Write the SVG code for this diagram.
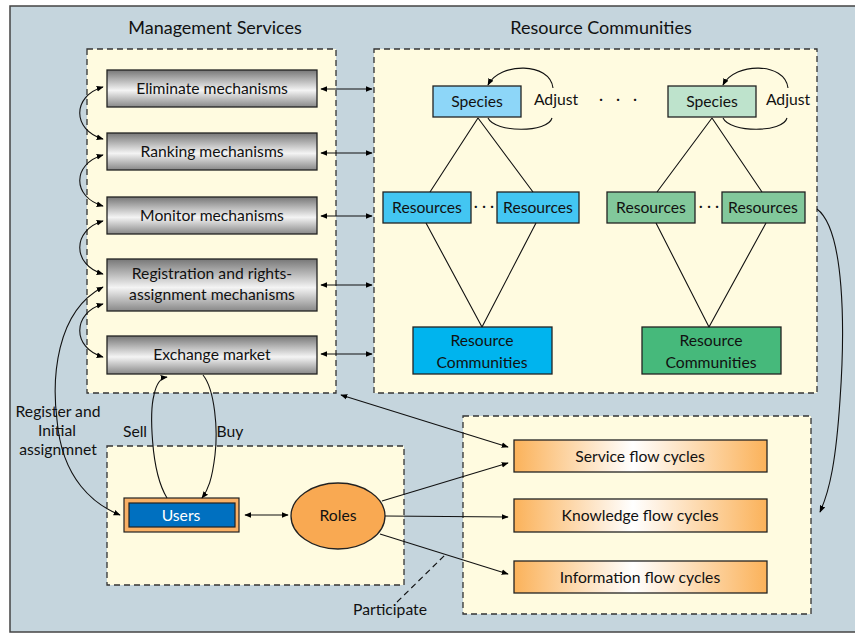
<svg xmlns="http://www.w3.org/2000/svg" width="855" height="633" viewBox="0 0 855 633">
<defs>
<linearGradient id="gray" x1="0" y1="0" x2="0" y2="1">
<stop offset="0" stop-color="#777"/>
<stop offset="0.55" stop-color="#f4f4f4"/>
<stop offset="1" stop-color="#888"/>
</linearGradient>
<linearGradient id="orange" x1="0" y1="0" x2="1" y2="0">
<stop offset="0" stop-color="#fbb25a"/>
<stop offset="0.47" stop-color="#ffffff"/>
<stop offset="1" stop-color="#fbb25a"/>
</linearGradient>
<marker id="ah" viewBox="0 0 10 10" refX="9" refY="5" markerWidth="7" markerHeight="7" orient="auto-start-reverse" markerUnits="userSpaceOnUse">
<path d="M0,1 L10,5 L0,9 z" fill="#000"/>
</marker>
</defs>
<style>
text{font-family:Lato,"Liberation Sans",sans-serif;fill:#111;}
.t{font-size:15.7px;text-anchor:middle;}
.title{font-size:18px;text-anchor:middle;}
.dash{fill:#fffbe0;stroke:#333;stroke-width:1.3;stroke-dasharray:6,4;}
.mech{fill:url(#gray);stroke:#222;stroke-width:1.3;}
.flow{fill:url(#orange);stroke:#222;stroke-width:1.3;}
.box{stroke:#222;stroke-width:1.3;}
.ln{fill:none;stroke:#111;stroke-width:1.1;}
.ar{fill:none;stroke:#111;stroke-width:1.1;marker-end:url(#ah);}
.ar2{fill:none;stroke:#111;stroke-width:1.1;marker-end:url(#ah);marker-start:url(#ah);}
</style>
<rect x="0" y="0" width="855" height="633" fill="#ffffff"/>
<rect x="10" y="6" width="860" height="626" fill="#c5d5dd" stroke="#444" stroke-width="1.5"/>

<text class="title" x="215" y="34">Management Services</text>
<text class="title" x="601" y="34">Resource Communities</text>

<g id="mgmt-region"><rect class="dash" x="87" y="49" width="249" height="344"/></g>
<g id="res-region"><rect class="dash" x="374" y="49" width="443" height="344"/></g>
<g id="user-region"><rect class="dash" x="107" y="446" width="297" height="139"/></g>
<g id="flow-region"><rect class="dash" x="463" y="416" width="348" height="198"/></g>

<g id="eliminate"><rect class="mech" x="107" y="70" width="210" height="37"/><text class="t" x="212" y="94">Eliminate mechanisms</text></g>
<g id="ranking"><rect class="mech" x="107" y="133" width="210" height="37"/><text class="t" x="212" y="157">Ranking mechanisms</text></g>
<g id="monitor"><rect class="mech" x="107" y="197" width="210" height="37"/><text class="t" x="212" y="221">Monitor mechanisms</text></g>
<g id="registration"><rect class="mech" x="107" y="259" width="210" height="52"/><text class="t" x="212" y="279">Registration and rights-</text><text class="t" x="212" y="300">assignment mechanisms</text></g>
<g id="exchange"><rect class="mech" x="107" y="336" width="210" height="38"/><text class="t" x="212" y="360">Exchange market</text></g>

<g id="species1"><rect class="box" x="433" y="86" width="88" height="31" fill="#8dd6f8"/><text class="t" x="477" y="107">Species</text></g>
<g id="species2"><rect class="box" x="668" y="86" width="88" height="31" fill="#bee3cc"/><text class="t" x="712" y="107">Species</text></g>
<text class="t" x="556" y="105">Adjust</text>
<text class="t" x="788" y="105">Adjust</text>
<text class="t" x="601" y="104">·</text>
<text class="t" x="618" y="104">·</text>
<text class="t" x="635" y="104">·</text>

<g id="res1"><rect class="box" x="383" y="192" width="88" height="31" fill="#43c6f2"/><text class="t" x="427" y="213">Resources</text></g>
<g id="res2"><rect class="box" x="497" y="192" width="82" height="31" fill="#43c6f2"/><text class="t" x="538" y="213">Resources</text></g>
<g id="res3"><rect class="box" x="607" y="192" width="88" height="31" fill="#82c89b"/><text class="t" x="651" y="213">Resources</text></g>
<g id="res4"><rect class="box" x="722" y="192" width="83" height="31" fill="#82c89b"/><text class="t" x="763" y="213">Resources</text></g>
<text class="t" x="484" y="211">· · ·</text>
<text class="t" x="709" y="211">· · ·</text>

<g id="rc1"><rect class="box" x="413" y="327" width="139" height="47" fill="#00b4ee"/><text class="t" x="482" y="346">Resource</text><text class="t" x="482" y="368">Communities</text></g>
<g id="rc2"><rect class="box" x="642" y="327" width="139" height="47" fill="#46b97b"/><text class="t" x="711" y="346">Resource</text><text class="t" x="711" y="368">Communities</text></g>

<g id="service"><rect class="flow" x="514" y="440" width="253" height="32"/><text class="t" x="640" y="462">Service flow cycles</text></g>
<g id="knowledge"><rect class="flow" x="514" y="499" width="253" height="33"/><text class="t" x="640" y="521">Knowledge flow cycles</text></g>
<g id="information"><rect class="flow" x="514" y="561" width="253" height="32"/><text class="t" x="640" y="583">Information flow cycles</text></g>

<g id="users"><rect x="124" y="498" width="115" height="34" fill="#f9b066" stroke="#222" stroke-width="1.2"/><rect x="129" y="503" width="106" height="24" fill="#0070c0" stroke="#222" stroke-width="1.2"/><text class="t" x="181" y="521" style="fill:#fff">Users</text></g>
<g id="roles"><ellipse cx="338" cy="516" rx="47" ry="33" fill="#f9a952" stroke="#222" stroke-width="1.3"/><text class="t" x="338" y="521">Roles</text></g>

<text class="t" x="58" y="417">Register and</text>
<text class="t" x="57" y="436">Initial</text>
<text class="t" x="58" y="455">assignmnet</text>
<text class="t" x="135" y="437">Sell</text>
<text class="t" x="230" y="437">Buy</text>
<text class="t" x="390" y="615">Participate</text>

<g id="connectors">
<path class="ar2" d="M321 89 H372"/>
<path class="ar2" d="M321 153 H372"/>
<path class="ar2" d="M321 216 H372"/>
<path class="ar2" d="M321 285 H372"/>
<path class="ar2" d="M321 354 H372"/>
<path class="ar2" d="M103 87 C72 96, 72 130, 103 139"/>
<path class="ar2" d="M103 155 C72 164, 72 197, 103 206"/>
<path class="ar2" d="M103 221 C72 230, 72 265, 103 274"/>
<path class="ar2" d="M103 304 C72 313, 72 348, 103 357"/>
<path class="ar2" d="M103 287 C55 312, 52 380, 57 420 C62 480, 95 505, 120 515"/>
<path class="ar" d="M167 498 C150 470, 150 410, 154 395 C156 385, 160 378, 167 377"/>
<path class="ar" d="M203 375 C215 390, 218 430, 215 455 C212 480, 208 490, 202 498"/>
<path class="ar2" d="M245 515 H288"/>
<path class="ar2" d="M341 395 L508 447"/>
<path class="ar" d="M382 501 L508 463"/>
<path class="ar" d="M385 516 L508 517"/>
<path class="ar" d="M380 534 L508 574"/>
<path class="ln" d="M397 602 L447 553" stroke-dasharray="6,4"/>
<path class="ln" d="M488 118 C495 133, 548 133, 552 118"/>
<path class="ar" d="M553 88 C550 62, 500 62, 488 85"/>
<path class="ln" d="M723 118 C730 133, 783 133, 787 118"/>
<path class="ar" d="M788 88 C785 62, 735 62, 723 85"/>
<path class="ln" d="M478 118 L430 192 M478 118 L533 192"/>
<path class="ln" d="M712 118 L657 192 M712 118 L762 192"/>
<path class="ln" d="M426 223 L482 327 M536 223 L482 327"/>
<path class="ln" d="M656 223 L709 327 M766 223 L709 327"/>
<path class="ar" d="M817 209 C845 230, 845 330, 840 400 C836 460, 830 490, 820 512"/>
</g>
</svg>
